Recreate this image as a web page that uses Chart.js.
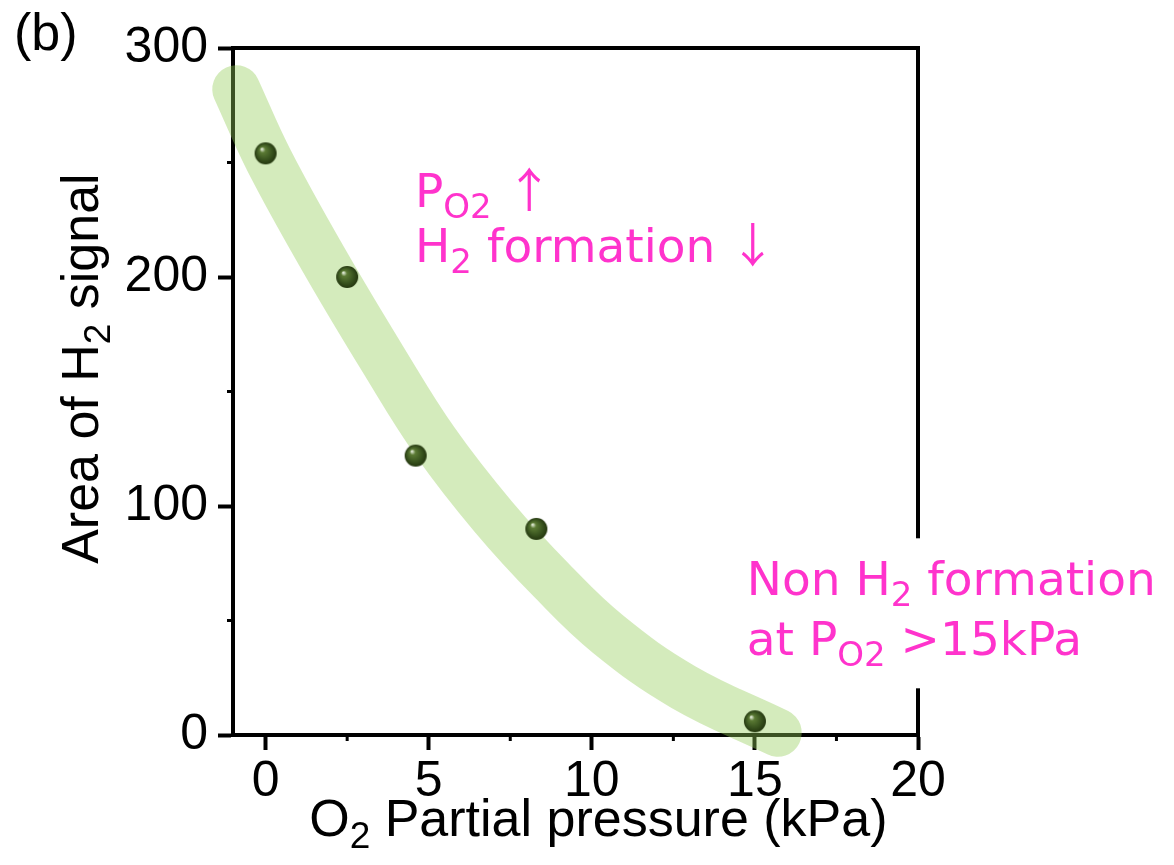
<!DOCTYPE html>
<html>
<head>
<meta charset="utf-8">
<script src="https://cdn.jsdelivr.net/npm/chart.js@4.4.1/dist/chart.umd.min.js"></script>
<style>
  html, body { margin: 0; padding: 0; background: #ffffff; }
  #wrap { width: 1174px; height: 865px; position: relative; }
</style>
</head>
<body>
<div id="wrap"><canvas id="h2-chart"></canvas></div>
<script>
// measured points: O2 partial pressure (kPa) vs. area of the H2 signal
const pressureKPa = [0, 2.5, 4.6, 8.3, 15];
const h2Area = [254, 200, 122, 90, 6];

// centre line of the shaded trend band
const bandX = [-0.9, 0.1, 1.8, 3.6, 5.2, 7.0, 8.8, 10.5, 12.8, 15.7];
const bandY = [282, 251, 207, 164, 128, 95, 67, 44, 21, 1];

const xMajorTicks = [0, 5, 10, 15, 20];
const xMinorTicks = [2.5, 7.5, 12.5, 17.5];
const yMajorTicks = [0, 100, 200, 300];
const yMinorTicks = [50, 150, 250];

const axisFont = '"Liberation Sans", Arial, sans-serif';
const noteFont = '"DejaVu Sans", Verdana, sans-serif';
const arrowFont = '"Noto Sans CJK JP", sans-serif';
const pink = '#ff33cc';
const axisWidth = 4;

// small shaded ball used as the marker
function sphereImage(r) {
  const c = document.createElement('canvas');
  c.width = c.height = 2 * r + 2;
  const g = c.getContext('2d');
  const cx = r + 1, cy = r + 1;
  const grad = g.createRadialGradient(cx - r * 0.35, cy - r * 0.4, r * 0.05, cx, cy, r);
  grad.addColorStop(0, '#dfe9d4');
  grad.addColorStop(0.22, '#5b7a34');
  grad.addColorStop(0.65, '#3b5620');
  grad.addColorStop(1, '#24370f');
  g.fillStyle = grad;
  g.beginPath();
  g.arc(cx, cy, r, 0, Math.PI * 2);
  g.fill();
  return c;
}

// text with subscripts, drawn run by run
function drawRuns(ctx, x, y, runs, size, family) {
  runs.forEach(r => {
    if (r.dx) x += r.dx;
    if (r.sub) {
      ctx.font = Math.round(size * 0.72) + 'px ' + family;
      ctx.fillText(r.t, x, y + size * 0.23);
    } else {
      ctx.font = size + 'px ' + (r.font || family);
      ctx.fillText(r.t, x, y);
    }
    x += ctx.measureText(r.t).width;
  });
  return x;
}

function runsWidth(ctx, runs, size, family) {
  let w = 0;
  runs.forEach(r => {
    if (r.dx) w += r.dx;
    ctx.font = (r.sub ? Math.round(size * 0.72) : size) + 'px ' + (r.font || family);
    w += ctx.measureText(r.t).width;
  });
  return w;
}

// closed frame plus the short minor ticks
const frameAndMinorTicks = {
  id: 'frameAndMinorTicks',
  beforeDatasetsDraw(chart) {
    const {ctx, chartArea: a, scales: {x, y}} = chart;
    ctx.save();
    ctx.strokeStyle = '#000';
    ctx.lineWidth = axisWidth;
    ctx.lineCap = 'square';
    ctx.beginPath();
    ctx.moveTo(a.left, a.top);
    ctx.lineTo(a.right, a.top);
    ctx.lineTo(a.right, a.bottom);
    ctx.stroke();
    ctx.lineCap = 'butt';
    ctx.lineWidth = 3;
    ctx.beginPath();
    xMinorTicks.forEach(v => {
      const px = x.getPixelForValue(v);
      ctx.moveTo(px, a.bottom);
      ctx.lineTo(px, a.bottom + 6);
    });
    yMinorTicks.forEach(v => {
      const py = y.getPixelForValue(v);
      ctx.moveTo(a.left, py);
      ctx.lineTo(a.left - 6, py);
    });
    ctx.stroke();
    ctx.restore();
  }
};

// axis titles, panel letter and the pink notes
const labelsAndNotes = {
  id: 'labelsAndNotes',
  afterDraw(chart) {
    const {ctx, scales: {x, y}} = chart;
    ctx.save();
    ctx.fillStyle = '#000';
    ctx.textBaseline = 'alphabetic';

    ctx.font = '52px ' + axisFont;
    ctx.fillText('(b)', 14, 50);

    // x title
    const xTitle = [{t: 'O'}, {t: '2', sub: true}, {t: ' Partial pressure (kPa)'}];
    const xw = runsWidth(ctx, xTitle, 52, axisFont);
    drawRuns(ctx, x.getPixelForValue(10.2) - xw / 2, 836, xTitle, 52, axisFont);

    // y title, rotated
    const yTitle = [{t: 'Area of H'}, {t: '2', sub: true}, {t: ' signal'}];
    const yw = runsWidth(ctx, yTitle, 52, axisFont);
    ctx.save();
    ctx.translate(98, y.getPixelForValue(160));
    ctx.rotate(-Math.PI / 2);
    drawRuns(ctx, -yw / 2, 0, yTitle, 52, axisFont);
    ctx.restore();

    // notes
    ctx.fillStyle = pink;
    const nx = x.getPixelForValue(4.58);
    const ny = y.getPixelForValue(230.5);
    drawRuns(ctx, nx, ny, [{t: 'P'}, {t: 'O2', sub: true}, {t: '↑', font: arrowFont, dx: 14}], 47, noteFont);
    drawRuns(ctx, nx, ny + 55, [{t: 'H'}, {t: '2', sub: true}, {t: ' formation'}, {t: '↓', font: arrowFont, dx: 14}], 47, noteFont);

    const lineC = [{t: 'Non H'}, {t: '2', sub: true}, {t: ' formation'}];
    const lineD = [{t: 'at P'}, {t: 'O2', sub: true}, {t: ' >15kPa'}];
    const bx = x.getPixelForValue(14.75);
    const by = y.getPixelForValue(61);
    const bw = Math.max(runsWidth(ctx, lineC, 47, noteFont), runsWidth(ctx, lineD, 47, noteFont));
    ctx.fillStyle = '#ffffff';
    ctx.fillRect(bx - 8, by - 57, bw + 18, 150);
    ctx.fillStyle = pink;
    drawRuns(ctx, bx, by, lineC, 47, noteFont);
    drawRuns(ctx, bx, by + 60, lineD, 47, noteFont);
    ctx.restore();
  }
};

const bandPoints = bandX.map((v, i) => ({x: v, y: bandY[i]}));
const dataPoints = pressureKPa.map((v, i) => ({x: v, y: h2Area[i]}));

const tickFont = {family: axisFont, size: 50};

new Chart(document.getElementById('h2-chart'), {
  type: 'scatter',
  data: {
    datasets: [
      {
        label: 'H2 signal',
        data: dataPoints,
        pointStyle: sphereImage(11),
        pointRadius: 11,
        order: 0
      },
      {
        type: 'line',
        label: 'trend',
        data: bandPoints,
        borderColor: 'rgba(148, 205, 88, 0.4)',
        borderWidth: 48,
        borderCapStyle: 'round',
        borderJoinStyle: 'round',
        tension: 0.4,
        pointRadius: 0,
        fill: false,
        clip: false,
        order: 1
      }
    ]
  },
  options: {
    responsive: true,
    maintainAspectRatio: false,
    animation: false,
    events: [],
    layout: {padding: {left: 0, right: 256, top: 48, bottom: 0}},
    plugins: {
      legend: {display: false},
      tooltip: {enabled: false}
    },
    scales: {
      x: {
        type: 'linear',
        min: -1,
        max: 20,
        afterBuildTicks: s => { s.ticks = xMajorTicks.map(v => ({value: v})); },
        afterFit: s => { s.height = 130; },
        ticks: {font: tickFont, color: '#000', padding: 2, maxRotation: 0, autoSkip: false},
        grid: {drawOnChartArea: false, tickLength: 15, tickWidth: 4, tickColor: '#000'},
        border: {display: true, width: axisWidth, color: '#000'}
      },
      y: {
        type: 'linear',
        min: 0,
        max: 300,
        afterBuildTicks: s => { s.ticks = yMajorTicks.map(v => ({value: v})); },
        afterFit: s => { s.width = 233; },
        ticks: {font: tickFont, color: '#000', padding: 10, autoSkip: false},
        grid: {drawOnChartArea: false, tickLength: 15, tickWidth: 4, tickColor: '#000'},
        border: {display: true, width: axisWidth, color: '#000'}
      }
    }
  },
  plugins: [frameAndMinorTicks, labelsAndNotes]
});
</script>
</body>
</html>
